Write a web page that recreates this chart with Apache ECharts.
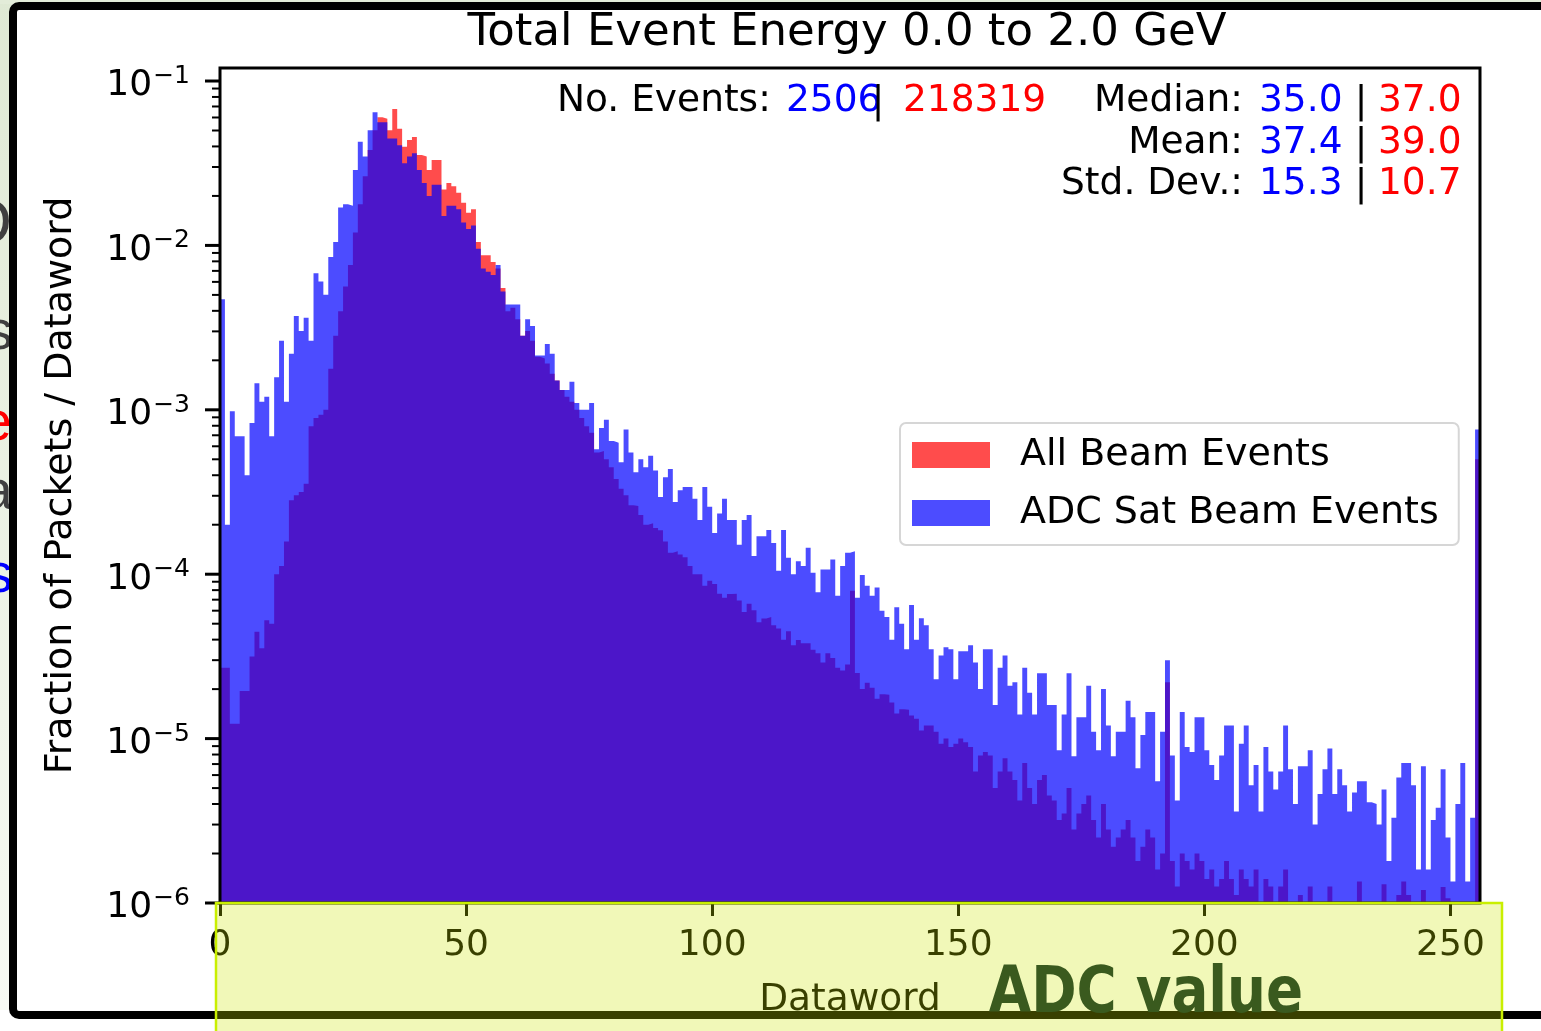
<!DOCTYPE html>
<html><head><meta charset="utf-8">
<script src="https://cdn.jsdelivr.net/npm/echarts@6/dist/echarts.min.js"></script>
<style>html,body{margin:0;padding:0;background:#fff;}#chart{width:1541px;height:1031px;}</style>
</head><body><div id="chart"></div>
<script>
// ---------- data ----------
const titleText = 'Total Event Energy 0.0 to 2.0 GeV';
const seriesNames = ['All Beam Events', 'ADC Sat Beam Events'];
const xAxisName = 'Dataword';
const yAxisName = 'Fraction of Packets / Dataword';
// fraction per dataword bin (bin i covers [i, i+1))
const allBeam = [
2.7e-5,2.7e-5,1.23e-5,1.23e-5,1.95e-5,1.95e-5,3.16e-5,4.47e-5,3.55e-5,5.25e-5,
5.0e-5,1.0e-4,1.12e-4,1.58e-4,2.82e-4,3.02e-4,3.16e-4,3.55e-4,7.94e-4,8.91e-4,
9.33e-4,1.0e-3,1.78e-3,2.82e-3,3.98e-3,5.62e-3,7.59e-3,1.20e-2,1.78e-2,2.63e-2,
3.80e-2,5.01e-2,6.03e-2,5.89e-2,5.01e-2,6.76e-2,5.13e-2,3.98e-2,4.37e-2,4.57e-2,
3.55e-2,3.47e-2,2.88e-2,3.31e-2,3.31e-2,2.19e-2,2.40e-2,2.29e-2,2.09e-2,1.82e-2,
1.58e-2,1.66e-2,1.05e-2,8.71e-3,8.71e-3,7.94e-3,7.24e-3,5.50e-3,3.98e-3,4.17e-3,
3.55e-3,2.82e-3,3.02e-3,2.63e-3,2.10e-3,2.05e-3,1.91e-3,1.66e-3,1.51e-3,1.32e-3,
1.20e-3,1.12e-3,1.0e-3,8.91e-4,7.94e-4,7.24e-4,5.5e-4,5.62e-4,5.01e-4,4.47e-4,
3.80e-4,3.31e-4,3.02e-4,2.63e-4,2.60e-4,2.29e-4,2.00e-4,2.04e-4,1.91e-4,1.85e-4,
1.58e-4,1.35e-4,1.38e-4,1.32e-4,1.27e-4,1.12e-4,1.00e-4,1.0e-4,8.5e-5,9.12e-5,
8.71e-5,7.6e-5,7.2e-5,7.59e-5,7.6e-5,6.92e-5,5.9e-5,6.6e-5,6.03e-5,5.1e-5,
5.37e-5,5.5e-5,4.90e-5,4.68e-5,4.0e-5,4.5e-5,3.7e-5,3.98e-5,3.80e-5,3.8e-5,
3.47e-5,3.31e-5,2.9e-5,3.3e-5,3.09e-5,2.7e-5,2.6e-5,2.82e-5,7.94e-5,2.51e-5,
2.0e-5,2.19e-5,2.04e-5,1.75e-5,1.86e-5,1.85e-5,1.66e-5,1.42e-5,1.51e-5,1.5e-5,
1.38e-5,1.32e-5,1.12e-5,1.20e-5,1.2e-5,1.10e-5,9.3e-6,1.0e-5,8.9e-6,9.3e-6,
1.0e-5,9.5e-6,8.9e-6,6.3e-6,7.9e-6,8.3e-6,7.9e-6,5.0e-6,6.3e-6,7.6e-6,
6.3e-6,5.6e-6,4.2e-6,7.1e-6,5.0e-6,4.0e-6,5.6e-6,6.0e-6,4.5e-6,4.2e-6,
3.2e-6,3.5e-6,5.0e-6,2.8e-6,3.5e-6,4.0e-6,4.5e-6,3.2e-6,2.5e-6,4.0e-6,
2.8e-6,2.2e-6,2.5e-6,2.8e-6,3.2e-6,2.5e-6,1.8e-6,2.2e-6,2.8e-6,2.5e-6,
1.6e-6,2.0e-6,2.2e-5,1.8e-6,1.26e-6,2.0e-6,1.8e-6,1.6e-6,2.0e-6,1.8e-6,
1.4e-6,1.6e-6,1.26e-6,1.4e-6,1.8e-6,1.4e-6,1.12e-6,1.6e-6,1.4e-6,1.26e-6,
1.6e-6,8.9e-7,1.4e-6,1.26e-6,1.0e-6,1.26e-6,1.6e-6,8.9e-7,7.9e-7,1.12e-6,
8.9e-7,1.26e-6,7.9e-7,1.0e-6,8.9e-7,1.26e-6,7.9e-7,8.9e-7,7.9e-7,6.3e-7,
8.9e-7,1.35e-6,7.9e-7,7.9e-7,1.0e-6,7.1e-7,1.3e-6,6.3e-7,7.9e-7,1.12e-6,
1.35e-6,1.12e-6,7.9e-7,6.3e-7,1.2e-6,6.3e-7,7.9e-7,1.0e-6,1.25e-6,1.07e-6,
6.3e-7,7.9e-7,1.0e-6,7.9e-7,8.9e-7,5.0e-4
];
const adcSat = [
4.7e-3,2.0e-4,9.8e-4,6.9e-4,6.9e-4,4.0e-4,8.3e-4,1.45e-3,1.12e-3,1.2e-3,
6.9e-4,1.58e-3,2.63e-3,1.12e-3,2.19e-3,3.72e-3,3.02e-3,3.63e-3,2.63e-3,6.76e-3,
6.03e-3,5.01e-3,8.51e-3,1.05e-2,1.70e-2,1.78e-2,1.74e-2,2.88e-2,4.27e-2,3.47e-2,
5.01e-2,6.46e-2,5.62e-2,5.62e-2,4.47e-2,4.47e-2,4.07e-2,3.16e-2,3.47e-2,3.63e-2,
2.88e-2,2.40e-2,2.0e-2,2.34e-2,2.34e-2,1.51e-2,1.74e-2,1.74e-2,1.66e-2,1.38e-2,
1.26e-2,1.32e-2,9.55e-3,7.24e-3,6.92e-3,6.61e-3,7.59e-3,5.25e-3,4.37e-3,4.37e-3,
4.37e-3,2.82e-3,3.55e-3,3.24e-3,2.14e-3,2.14e-3,2.51e-3,2.19e-3,1.51e-3,1.32e-3,
1.32e-3,1.48e-3,1.10e-3,1.0e-3,1.0e-3,1.10e-3,5.75e-4,7.76e-4,8.71e-4,6.46e-4,
6.31e-4,4.79e-4,7.59e-4,5.50e-4,4.17e-4,5.01e-4,4.47e-4,5.25e-4,4.27e-4,2.95e-4,
3.89e-4,4.37e-4,2.75e-4,3.24e-4,3.39e-4,3.39e-4,2.88e-4,2.14e-4,3.39e-4,2.57e-4,
1.78e-4,2.34e-4,2.88e-4,2.14e-4,2.14e-4,1.51e-4,2.14e-4,2.29e-4,1.29e-4,1.70e-4,
1.70e-4,1.86e-4,1.55e-4,1.05e-4,1.86e-4,1.26e-4,1.0e-4,1.20e-4,1.12e-4,1.45e-4,
1.02e-4,7.76e-5,1.07e-4,1.07e-4,1.23e-4,7.4e-5,1.12e-4,1.35e-4,1.38e-4,7.2e-5,
9.9e-5,8.5e-5,7.4e-5,8.3e-5,6.0e-5,5.5e-5,4.0e-5,6.3e-5,5.0e-5,3.5e-5,
6.5e-5,4.0e-5,5.4e-5,4.9e-5,3.5e-5,2.3e-5,3.2e-5,3.6e-5,3.5e-5,2.3e-5,
3.4e-5,3.4e-5,3.7e-5,2.9e-5,2.0e-5,3.5e-5,3.5e-5,1.6e-5,2.7e-5,3.2e-5,
2.1e-5,2.2e-5,1.4e-5,2.7e-5,1.9e-5,1.4e-5,2.5e-5,2.5e-5,1.6e-5,1.6e-5,
8.5e-6,1.4e-5,2.5e-5,7.8e-6,1.35e-5,1.35e-5,2.1e-5,1.1e-5,8.5e-6,2.0e-5,
1.2e-5,7.8e-6,1.1e-5,1.1e-5,1.7e-5,1.35e-5,6.6e-6,1.05e-5,1.45e-5,1.45e-5,
5.5e-6,1.1e-5,3.0e-5,7.9e-6,4.2e-6,1.45e-5,8.9e-6,8.3e-6,1.35e-5,1.35e-5,
8.5e-6,6.9e-6,5.6e-6,7.9e-6,1.2e-5,1.2e-5,3.6e-6,9.3e-6,1.2e-5,5.2e-6,
6.9e-6,3.6e-6,8.9e-6,6.3e-6,4.9e-6,6.3e-6,1.2e-5,6.5e-6,4.0e-6,6.8e-6,
6.8e-6,8.5e-6,3.0e-6,4.6e-6,6.5e-6,8.7e-6,4.6e-6,6.5e-6,5.2e-6,3.6e-6,
4.7e-6,5.5e-6,5.5e-6,4.1e-6,4.0e-6,3.0e-6,4.9e-6,1.8e-6,3.3e-6,5.8e-6,
7.1e-6,7.1e-6,5.2e-6,1.6e-6,6.8e-6,1.6e-6,3.2e-6,3.8e-6,6.5e-6,2.5e-6,
1.35e-6,4.0e-6,7.1e-6,1.35e-6,3.3e-6,7.6e-4
];
const xTicks = [0, 50, 100, 150, 200, 250];
const yMajor = [1e-6, 1e-5, 1e-4, 1e-3, 1e-2, 1e-1];
const yMajorExp = ['−6', '−5', '−4', '−3', '−2', '−1'];
const statLabels = ['No. Events:', 'Median:', 'Mean:', 'Std. Dev.:'];
const statSat = ['2506', '35.0', '37.4', '15.3'];
const statAll = ['218319', '37.0', '39.0', '10.7'];

// ---------- helpers ----------
const FONT = 'DejaVu Sans';
const G = {left: 220, right: 61, top: 68, bottom: 128};
const W = 1541, H = 1031;
function toSteps(vals) {
  const d = vals.map((v, i) => [i, v]);
  d.push([vals.length, vals[vals.length - 1]]);
  return d;
}
const yMinor = [];
for (let e = -6; e <= -1; e++) for (let m = 2; m <= 9; m++) {
  const v = m * Math.pow(10, e);
  if (v < 0.12) yMinor.push([0, v]);
}
function tickSeries(vals, len, width) {
  return {
    type: 'custom', silent: true, clip: false, z: 60,
    data: vals,
    renderItem: function (params, api) {
      const p = api.coord([0, api.value(1)]);
      return {type: 'line', shape: {x1: p[0] - len, y1: p[1], x2: p[0], y2: p[1]},
              style: {stroke: '#000', lineWidth: width}};
    }
  };
}

const chart = echarts.init(document.getElementById('chart'));

// stats text graphics
const statGraphics = [];
const rowY = [101, 143, 184];
const SF = '37.5px "DejaVu Sans"';
statGraphics.push({type: 'text', z: 40, style: {x: 557, y: rowY[0], text: statLabels[0], font: SF, fill: '#000', textAlign: 'left', textVerticalAlign: 'middle'}});
statGraphics.push({type: 'text', z: 40, style: {x: 786, y: rowY[0], text: statSat[0], font: SF, fill: '#0000ff', textAlign: 'left', textVerticalAlign: 'middle'}});
statGraphics.push({type: 'text', z: 41, style: {x: 878, y: rowY[0] + 1, text: '|', font: SF, fill: '#000', textAlign: 'center', textVerticalAlign: 'middle'}});
statGraphics.push({type: 'text', z: 40, style: {x: 903, y: rowY[0], text: statAll[0], font: SF, fill: '#ff0000', textAlign: 'left', textVerticalAlign: 'middle'}});
for (let r = 1; r < 4; r++) {
  const y = rowY[r - 1];
  statGraphics.push({type: 'text', z: 40, style: {x: 1243, y: y, text: statLabels[r], font: SF, fill: '#000', textAlign: 'right', textVerticalAlign: 'middle'}});
  statGraphics.push({type: 'text', z: 40, style: {x: 1259, y: y, text: statSat[r], font: SF, fill: '#0000ff', textAlign: 'left', textVerticalAlign: 'middle'}});
  statGraphics.push({type: 'text', z: 40, style: {x: 1361, y: y + 1, text: '|', font: SF, fill: '#000', textAlign: 'center', textVerticalAlign: 'middle'}});
  statGraphics.push({type: 'text', z: 40, style: {x: 1378, y: y, text: statAll[r], font: SF, fill: '#ff0000', textAlign: 'left', textVerticalAlign: 'middle'}});
}

const option = {
  animation: false,
  backgroundColor: '#ffffff',
  title: {
    text: titleText, left: 847, top: 11, padding: 0, textAlign: 'center',
    textStyle: {fontFamily: FONT, fontSize: 45, fontWeight: 'normal', color: '#000'}
  },
  legend: {
    data: [
      {name: seriesNames[0], itemStyle: {color: 'rgba(255,0,0,0.7)'}},
      {name: seriesNames[1], itemStyle: {color: 'rgba(0,0,255,0.7)'}}
    ],
    orient: 'vertical', left: 900, top: 423,
    itemWidth: 78, itemHeight: 26, itemGap: 18, icon: 'rect',
    padding: [12, 20, 12, 12],
    borderColor: '#d6d6d6', borderWidth: 2, borderRadius: 6,
    backgroundColor: 'rgba(255,255,255,0.8)',
    textStyle: {fontFamily: FONT, fontSize: 38, color: '#000', lineHeight: 40, padding: [0, 0, 0, 25]},
    selectedMode: false, z: 30
  },
  grid: {left: G.left, right: G.right, top: G.top, bottom: G.bottom, show: false},
  xAxis: {
    type: 'value', min: 0, max: 256, interval: 50,
    axisLine: {show: false}, splitLine: {show: false},
    axisTick: {show: true, length: 13, lineStyle: {width: 3, color: '#000'}, customValues: xTicks},
    axisLabel: {customValues: xTicks, fontFamily: FONT, fontSize: 36, color: '#000', margin: 25},
    name: xAxisName, nameLocation: 'middle', nameGap: 78,
    nameTextStyle: {fontFamily: FONT, fontSize: 37.5, color: '#000'}
  },
  yAxis: {
    type: 'log', logBase: 10, min: 1e-6, max: 0.12,
    axisLine: {show: false}, splitLine: {show: false}, axisTick: {show: false},
    axisLabel: {
      margin: 30, color: '#000', padding: [10, 0, 0, 0],
      formatter: function (v) {
        const l = Math.log10(v), e = Math.round(l);
        if (Math.abs(l - e) > 1e-6) return '';
        const idx = yMajor.findIndex(t => Math.abs(Math.log10(t) - e) < 1e-6);
        if (idx < 0) return '';
        return '{b|10}{s|' + yMajorExp[idx] + '}';
      },
      rich: {
        b: {fontFamily: FONT, fontSize: 36, color: '#000', verticalAlign: 'bottom', lineHeight: 36},
        s: {fontFamily: FONT, fontSize: 25, color: '#000', verticalAlign: 'bottom', lineHeight: 25, padding: [0, 0, 15, 1]}
      }
    },
    name: yAxisName, nameLocation: 'middle', nameGap: 140,
    nameTextStyle: {fontFamily: FONT, fontSize: 38, color: '#000'}
  },
  series: [
    {
      name: seriesNames[0], type: 'line', step: 'end', data: toSteps(allBeam),
      symbol: 'none', showSymbol: false, clip: true, z: 2,
      color: 'rgba(255,0,0,0.7)',
      itemStyle: {color: 'rgba(255,0,0,0.7)'},
      lineStyle: {width: 0, opacity: 0},
      areaStyle: {color: 'rgba(255,0,0,0.7)', opacity: 1, origin: 'start'}
    },
    {
      name: seriesNames[1], type: 'line', step: 'end', data: toSteps(adcSat),
      symbol: 'none', showSymbol: false, clip: true, z: 3,
      color: 'rgba(0,0,255,0.7)',
      itemStyle: {color: 'rgba(0,0,255,0.7)'},
      lineStyle: {width: 0, opacity: 0},
      areaStyle: {color: 'rgba(0,0,255,0.7)', opacity: 1, origin: 'start'}
    },
    tickSeries(yMajor.map(v => [0, v]), 15, 3),
    tickSeries(yMinor, 8, 2)
  ],
  graphic: [
    // slide background strips
    {type: 'rect', z: 80, silent: true, shape: {x: 0, y: 0, width: 12, height: 1010},
     style: {fill: new echarts.graphic.LinearGradient(0, 0, 0, 1, [{offset: 0, color: '#dfe9d4'}, {offset: 1, color: '#f7faf3'}])}},
    {type: 'rect', z: 80, silent: true, shape: {x: 0, y: 0, width: W, height: 4}, style: {fill: '#e3ecd9'}},
    // cut-off slide text fragments on the left
    {type: 'text', z: 81, silent: true, style: {x: 12, y: 226, text: 'D', font: '64px "Liberation Sans"', fill: '#3f3f3f', textAlign: 'right', textVerticalAlign: 'middle'}},
    {type: 'text', z: 81, silent: true, style: {x: 13, y: 334, text: 's', font: '56px "Liberation Sans"', fill: '#3f3f3f', textAlign: 'right', textVerticalAlign: 'middle'}},
    {type: 'text', z: 81, silent: true, style: {x: 12, y: 425, text: 'e', font: '56px "Liberation Sans"', fill: '#ff0000', textAlign: 'right', textVerticalAlign: 'middle'}},
    {type: 'text', z: 81, silent: true, style: {x: 13, y: 494, text: 'a', font: '56px "Liberation Sans"', fill: '#3f3f3f', textAlign: 'right', textVerticalAlign: 'middle'}},
    {type: 'text', z: 81, silent: true, style: {x: 13, y: 577, text: 's', font: '56px "Liberation Sans"', fill: '#0000ff', textAlign: 'right', textVerticalAlign: 'middle'}},
    // slide image border
    {type: 'rect', z: 90, silent: true, shape: {x: 13, y: 6, width: 1700, height: 1009, r: 6},
     style: {fill: 'none', stroke: '#000', lineWidth: 8}},
    // axes frame (spines)
    {type: 'rect', z: 50, silent: true, shape: {x: G.left, y: G.top, width: W - G.left - G.right, height: H - G.top - G.bottom},
     style: {fill: 'none', stroke: '#000', lineWidth: 3}},
    // highlight box and annotation
    {type: 'rect', z: 100, silent: true, shape: {x: 216, y: 903, width: 1286, height: 140},
     style: {fill: 'rgba(205,230,0,0.28)', stroke: '#c9ef00', lineWidth: 2.5}},
    {type: 'text', z: 101, silent: true, x: 1146, y: 995, scaleX: 0.95,
     style: {x: 0, y: 0, text: 'ADC value', font: 'bold 64px "Liberation Sans Narrow", "DejaVu Sans Condensed", sans-serif', fill: '#3a5a1e', textAlign: 'center', textVerticalAlign: 'middle'}}
  ].concat(statGraphics)
};
chart.setOption(option);
</script>
</body></html>
